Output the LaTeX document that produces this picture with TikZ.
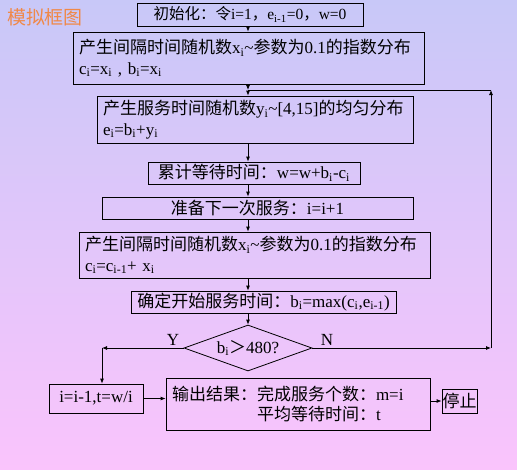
\documentclass[tikz,border=0pt]{standalone}
\usepackage{fontspec}
\setmainfont{Liberation Serif}
\newfontfamily\cjk{Noto Sans CJK SC}
\usetikzlibrary{arrows.meta,shapes.geometric}
\definecolor{bgtop}{HTML}{C8C8F8}
\definecolor{bgbot}{HTML}{FAC4FC}
\definecolor{titleorange}{HTML}{F08848}
\tikzset{
  box/.style={draw=black, line width=0.8pt, inner sep=0pt, font=\fontsize{17}{20.5}\selectfont},
  lbox/.style={box, inner xsep=6pt, align=left},
  arr/.style={-{Latex[length=5pt,width=4pt]}, line width=0.8pt},
  ln/.style={line width=0.8pt},
  lab/.style={font=\fontsize{17}{20}\selectfont, inner sep=0pt},
}
\begin{document}
\begin{tikzpicture}[x=1pt,y=-1pt]
\shade[top color=bgtop, bottom color=bgbot] (0,0) rectangle (517,469);
\useasboundingbox (0,0) rectangle (517,469);

\node[text=titleorange, font=\fontsize{19}{19}\selectfont\cjk, inner sep=0pt] (title) at (45,17) {模拟框图};

\coordinate (ax) at (248,0);

\node[box, minimum width=226, minimum height=23, font=\fontsize{15.5}{18}\selectfont] (init) at (250,14.5)
  {{\cjk 初始化：令}i=1{\cjk ，}e\textsubscript{i-1}=0{\cjk ，}w=0};

\node[lbox, text width=339, minimum height=52] (gen1) at (248.5,58)
  {{\cjk 产生间隔时间随机数}x\textsubscript{i}\textasciitilde{\cjk 参数为}0.1{\cjk 的指数分布}\\
   c\textsubscript{i}=x\textsubscript{i} , b\textsubscript{i}=x\textsubscript{i}};

\node[lbox, text width=304, minimum height=47] (serv) at (255,119.5)
  {{\cjk 产生服务时间随机数}y\textsubscript{i}\textasciitilde[4,15]{\cjk 的均匀分布}\\
   e\textsubscript{i}=b\textsubscript{i}+y\textsubscript{i}};

\node[box, minimum width=212, minimum height=22] (wait) at (254,173)
  {{\cjk 累计等待时间：}w=w+b\textsubscript{i}-c\textsubscript{i}};

\node[box, minimum width=311, minimum height=22] (next) at (257.5,208)
  {{\cjk 准备下一次服务：}i=i+1};

\node[lbox, text width=339, minimum height=46] (gen2) at (254.5,255)
  {{\cjk 产生间隔时间随机数}x\textsubscript{i}\textasciitilde{\cjk 参数为}0.1{\cjk 的指数分布}\\
   c\textsubscript{i}=c\textsubscript{i-1}+ x\textsubscript{i}};

\node[box, minimum width=265, minimum height=22] (start) at (263.5,302)
  {{\cjk 确定开始服务时间：}b\textsubscript{i}=max(c\textsubscript{i},e\textsubscript{i-1})};

\node[box, shape=diamond, aspect=2.78, minimum width=128, minimum height=46] (dec) at (248,348)
  {b\textsubscript{i}{\cjk ＞}480?};

\node[box, minimum width=94, minimum height=29] (fin) at (96,398.5) {i=i-1,t=w/i};

\node[lbox, text width=252, minimum height=52] (out) at (298,404)
  {{\cjk 输出结果：完成服务个数：}m=i\\
   \hspace*{5em}{\cjk 平均等待时间：}t};

\node[box, minimum width=35, minimum height=24] (stop) at (459.5,401) {{\cjk 停止}};

\node[lab] (ylab) at (173,340) {Y};
\node[lab] (nlab) at (327,340) {N};

\coordinate (jn) at (248,90);
\coordinate (rt) at (491,90);
\coordinate (rb) at (491,348);
\coordinate (lb) at (102,348);

\draw[arr] (init.south -| ax) -- (gen1.north -| ax);
\draw[arr] (gen1.south -| ax) -- (jn);
\draw[arr] (jn) -- (serv.north -| ax);
\draw[arr] (serv.south -| ax) -- (wait.north -| ax);
\draw[arr] (wait.south -| ax) -- (next.north -| ax);
\draw[arr] (next.south -| ax) -- (gen2.north -| ax);
\draw[arr] (gen2.south -| ax) -- (start.north -| ax);
\draw[arr] (start.south -| ax) -- (dec.north);

\draw[arr] (dec.east) -- (rb);
\draw[arr] (rb) -- (rt);
\draw[ln] (rt) -- (jn);

\draw[arr] (dec.west) -- (lb);
\draw[arr] (lb) -- (fin.north -| lb);

\draw[arr] (fin.east) -- (out.west |- fin.east);
\draw[arr] (out.east |- stop.west) -- (stop.west);
\end{tikzpicture}
\end{document}
